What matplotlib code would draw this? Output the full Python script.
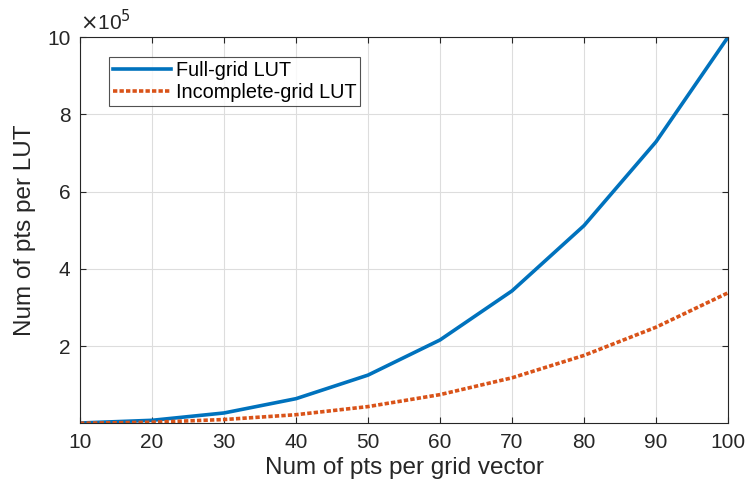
import matplotlib
matplotlib.use("Agg")
import matplotlib.pyplot as plt
from matplotlib.ticker import FixedLocator, FuncFormatter

plt.rcParams['font.family'] = ['Liberation Sans', 'DejaVu Sans']

n_pts = [10, 20, 30, 40, 50, 60, 70, 80, 90, 100]
full_grid = [1000, 8000, 27000, 64000, 125000, 216000, 343000, 512000, 729000, 1000000]
incomplete_grid = [400, 3000, 10000, 22500, 43500, 74500, 118000, 176000, 249000, 338000]
y_ticks = [2e5, 4e5, 6e5, 8e5, 10e5]

fig = plt.figure(figsize=(7.5, 4.94), dpi=100)
ax = fig.add_axes([0.1067, 0.1437, 0.864, 0.7813])

ax.plot(n_pts, full_grid, color='#0072BD', lw=2.6, label='Full-grid LUT')
ax.plot(n_pts, incomplete_grid, color='#D95319', lw=2.6, ls=(0, (1.2, 0.6)), label='Incomplete-grid LUT')

ax.set_xlim(10, 100)
ax.set_ylim(1000, 1e6)
ax.set_xticks(n_pts)
ax.yaxis.set_major_locator(FixedLocator(y_ticks))
ax.yaxis.set_major_formatter(FuncFormatter(lambda v, p: f"{v/1e5:g}"))
ax.text(0.0, 1.008, r'$\times$10$^5$', transform=ax.transAxes, fontsize=15, color='#262626', va='bottom', ha='left')

ax.grid(True, color='#dddddd', lw=0.8)
ax.set_axisbelow(True)
for s in ax.spines.values():
    s.set_color('#262626')
    s.set_linewidth(0.8)
ax.tick_params(direction='in', top=True, right=True, labelsize=15, colors='#262626', length=4, pad=7)
ax.set_xlabel('Num of pts per grid vector', fontsize=17.5, color='#262626', labelpad=4)
ax.set_ylabel('Num of pts per LUT', fontsize=17.5, color='#262626', labelpad=8)

leg = ax.legend(loc='upper left', bbox_to_anchor=(0.045, 0.948), fontsize=14.3, frameon=True,
                fancybox=False, edgecolor='#262626', borderaxespad=0, handlelength=2.9,
                handletextpad=0.25, borderpad=0.2, labelspacing=0.15)
leg.get_frame().set_linewidth(0.8)

fig.savefig('out.png', dpi=100)
